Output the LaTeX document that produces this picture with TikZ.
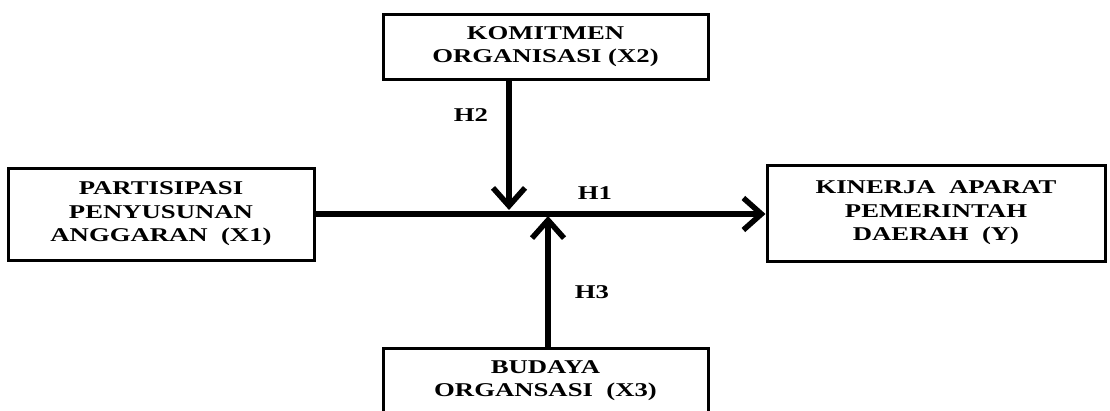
\documentclass[tikz,border=0pt]{standalone}
\usepackage{fontspec}
\newfontfamily\boxfont{Liberation Serif}[FakeStretch=1.37]
\usetikzlibrary{arrows.meta}
\begin{document}
\begin{tikzpicture}[x=1pt, y=-1pt,
    var/.style={draw, line width=3pt, inner sep=0pt, align=center,
        font=\boxfont\bfseries\fontsize{19.5}{23.5}\selectfont},
    hyp/.style={font=\boxfont\bfseries\fontsize{19.5}{23.5}\selectfont},
    path/.style={line width=5.5pt, -{Straight Barb[length=18pt, width=32pt, line width=5.5pt]}}]
            \clip (0,0) rectangle (1110,410);
            \fill[white] (0,0) rectangle (1110,410);
            % Nodes with manual coordinates
            \node[var, minimum width=325pt, minimum height=65pt] (x2) at (545.5,46.5) {KOMITMEN\\ORGANISASI (X2)};
            \node[var, minimum width=306pt, minimum height=92pt] (x1) at (161,214) {PARTISIPASI\\PENYUSUNAN\\ANGGARAN\ \ (X1)};
            \node[var, minimum width=338pt, minimum height=96pt] (y) at (936,213) {KINERJA\ \ APARAT\\PEMERINTAH\\DAERAH\ \ (Y)};
            \node[var, minimum width=325pt, minimum height=65pt] (x3) at (545.5,380.5) {BUDAYA\\ORGANSASI\ \ (X3)};
            \coordinate (m2) at (509,210);
            \coordinate (m3) at (548,216);
            \node[hyp] (h1) at (595,193) {H1};
            \node[hyp] (h2) at (471,115) {H2};
            \node[hyp] (h3) at (592,292) {H3};

            % Edges
            \draw[path] (x1.east) -- (y.west |- x1.east);
            \draw[path] (x2.south -| m2) -- (m2);
            \draw[path] (x3.north -| m3) -- (m3);
        \end{tikzpicture}
\end{document}
